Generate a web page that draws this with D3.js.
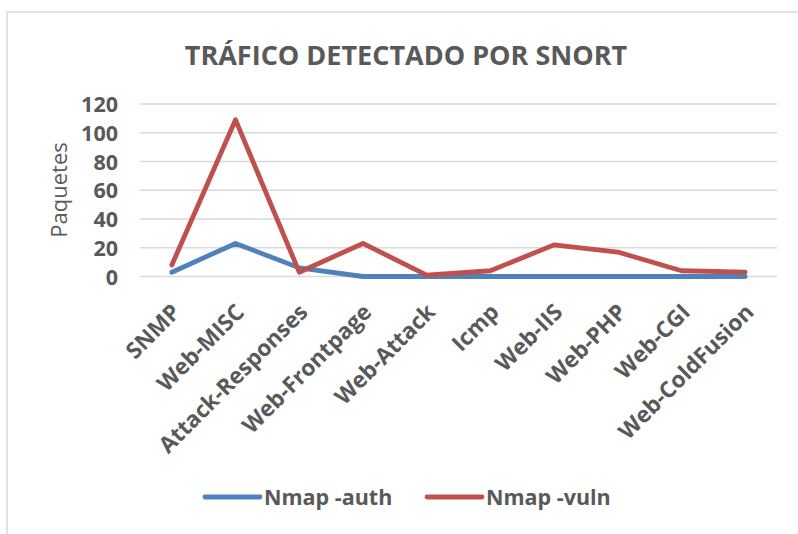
<!DOCTYPE html>
<html>
<head>
<meta charset="utf-8">
<script src="https://cdn.jsdelivr.net/npm/d3@7"></script>
<style>
  body { margin: 0; background: #fff; }
  text { font-family: "Open Sans", "Liberation Sans", sans-serif; }
</style>
</head>
<body>
<div id="chart"></div>
<script>
const categories = ["SNMP", "Web-MISC", "Attack-Responses", "Web-Frontpage", "Web-Attack",
  "Icmp", "Web-IIS", "Web-PHP", "Web-CGI", "Web-ColdFusion"];
const authValues = [3, 23, 6, 0, 0, 0, 0, 0, 0, 0];
const vulnValues = [8, 109, 3, 23, 1, 4, 22, 17, 4, 3];
const yTicks = [0, 20, 40, 60, 80, 100, 120];
const seriesNames = ["Nmap -auth", "Nmap -vuln"];
const colors = ["#4F81BD", "#C0504D"];

const width = 798;
const height = 534;
const margin = { top: 104, right: 21, bottom: 257, left: 140 };

const svg = d3
  .select("#chart")
  .append("svg")
  .attr("width", width)
  .attr("height", height);

// chart frame
svg.append("rect")
  .attr("x", 7)
  .attr("y", 12)
  .attr("width", width)
  .attr("height", height)
  .attr("fill", "none")
  .attr("stroke", "#d9d9d9")
  .attr("stroke-width", 1.5);

const x = d3
  .scaleBand()
  .domain(categories)
  .range([margin.left, width - margin.right]);

const y = d3
  .scaleLinear()
  .domain([0, 120])
  .range([height - margin.bottom - 0.5, margin.top]);

// gridlines
svg.append("g")
  .selectAll("line")
  .data(yTicks)
  .join("line")
  .attr("x1", margin.left)
  .attr("x2", width - margin.right)
  .attr("y1", d => y(d))
  .attr("y2", d => y(d))
  .attr("stroke", "#d9d9d9")
  .attr("stroke-width", 1.5);

// y axis labels
const yAxis = svg.append("g")
  .attr("transform", `translate(${margin.left - 22},0)`)
  .call(d3.axisLeft(y).tickValues(yTicks).tickSize(0).tickPadding(0));
yAxis.select(".domain").remove();
yAxis.selectAll("text")
  .attr("fill", "#595959")
  .attr("font-size", "21.5px")
  .attr("font-weight", "bold")
  .attr("font-family", "'Open Sans', sans-serif")
  .attr("dy", "0.35em");

// x axis labels
const xAxis = svg.append("g")
  .attr("transform", `translate(0,${y(0)})`)
  .call(d3.axisBottom(x).tickSize(0).tickPadding(0));
xAxis.select(".domain").remove();
xAxis.selectAll("text")
  .attr("fill", "#595959")
  .attr("font-size", "22.5px")
  .attr("font-weight", "bold")
  .attr("font-family", "'Open Sans', sans-serif")
  .attr("text-anchor", "end")
  .attr("dy", "0")
  .attr("transform", "translate(10,37) rotate(-45)");

// lines
const line = d3.line()
  .x((d, i) => x(categories[i]) + x.bandwidth() / 2)
  .y(d => y(d));

[authValues, vulnValues].forEach((vals, i) => {
  svg.append("path")
    .datum(vals)
    .attr("fill", "none")
    .attr("stroke", colors[i])
    .attr("stroke-width", 4.8)
    .attr("stroke-linejoin", "round")
    .attr("stroke-linecap", "round")
    .attr("d", line);
});

// title
svg.append("text")
  .attr("x", 406)
  .attr("y", 65)
  .attr("text-anchor", "middle")
  .attr("fill", "#595959")
  .attr("font-size", "27px")
  .attr("font-weight", "bold")
  .text("TRÁFICO DETECTADO POR SNORT");

// y axis title
svg.append("text")
  .attr("transform", "translate(67,190) rotate(-90)")
  .attr("text-anchor", "middle")
  .attr("fill", "#595959")
  .attr("font-size", "22px")
  .text("Paquetes");

// legend
const legendX = [205, 427];
const legend = svg.append("g")
  .selectAll("g")
  .data(seriesNames)
  .join("g")
  .attr("transform", (d, i) => `translate(${legendX[i]},497)`);

legend.append("line")
  .attr("x1", 0)
  .attr("x2", 55)
  .attr("stroke", (d, i) => colors[i])
  .attr("stroke-width", 4.8)
  .attr("stroke-linecap", "round");

legend.append("text")
  .attr("x", 59)
  .attr("y", 0)
  .attr("dy", "0.35em")
  .attr("fill", "#595959")
  .attr("font-size", "21.5px")
  .attr("font-weight", "bold")
  .text(d => d);
</script>
</body>
</html>
